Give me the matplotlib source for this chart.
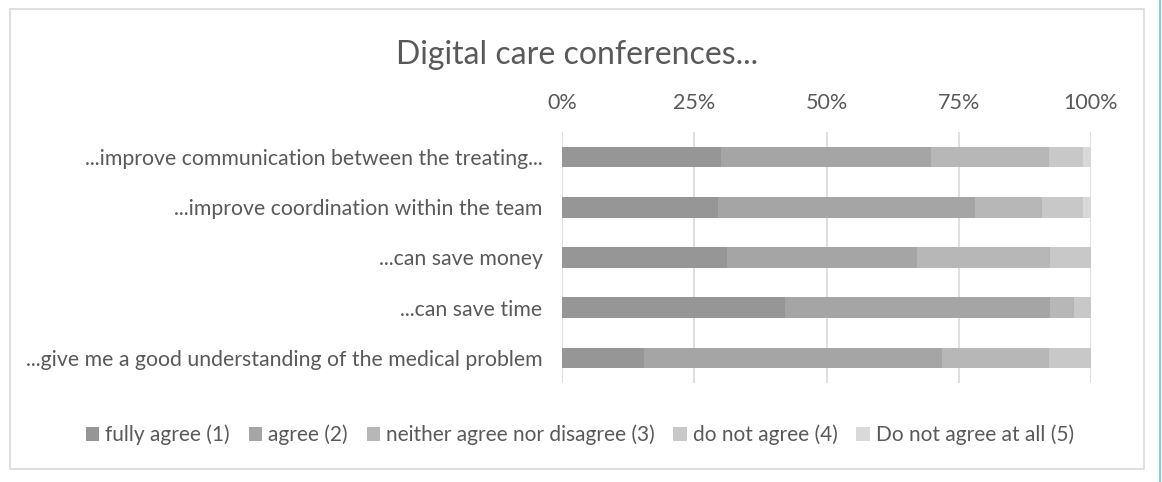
"""Stacked agreement bars for the digital care conference survey."""

import matplotlib.pyplot as plt
import numpy as np
from matplotlib.lines import Line2D
from matplotlib.patches import Patch, Rectangle

plt.rcParams["font.family"] = ["Lato", "DejaVu Sans"]

statements = [
    "...improve communication between the treating...",
    "...improve coordination within the team",
    "...can save money",
    "...can save time",
    "...give me a good understanding of the medical problem",
]
levels = [
    "fully agree (1)",
    "agree (2)",
    "neither agree nor disagree (3)",
    "do not agree (4)",
    "Do not agree at all (5)",
]
# share of answers per statement, in percent
fully_agree = [30.0, 29.5, 31.2, 42.1, 15.5]
agree = [39.8, 48.5, 35.9, 50.1, 56.3]
neutral = [22.2, 12.7, 25.1, 4.6, 20.2]
disagree = [6.4, 7.7, 7.8, 3.2, 8.0]
strongly_disagree = [1.6, 1.6, 0.0, 0.0, 0.0]
tick_labels = ["0%", "25%", "50%", "75%", "100%"]

colors = ["#969696", "#a5a5a5", "#b7b7b7", "#c8c8c8", "#d9d9d9"]
text_color = "#595959"

W, H = 1162, 482
fig = plt.figure(figsize=(W / 100, H / 100), dpi=100)
ax = fig.add_axes([562 / W, 1 - 383 / H, (1091 - 562) / W, (383 - 132) / H])

series = [fully_agree, agree, neutral, disagree, strongly_disagree]
ypos = np.arange(len(statements))
left = np.zeros(len(statements))
for vals, color, name in zip(series, colors, levels):
    vals = np.asarray(vals)
    ax.barh(ypos, vals, left=left, height=0.41, color=color, label=name, zorder=3)
    left += vals

ax.set_xlim(0, 100)
ax.set_ylim(len(statements) - 0.5, -0.5)
ax.set_xticks([0, 25, 50, 75, 100])
ax.set_xticklabels(tick_labels)
ax.xaxis.tick_top()
ax.set_yticks(ypos)
ax.set_yticklabels(statements)
ax.tick_params(axis="x", length=0, pad=14, labelsize=15.5, labelcolor=text_color)
ax.tick_params(axis="y", length=0, pad=14, labelsize=15.3, labelcolor=text_color)
ax.grid(axis="x", color="#d9d9d9", linewidth=1.2, zorder=0)
for spine in ax.spines.values():
    spine.set_visible(False)

fig.text(577 / W, 1 - 55 / H, "Digital care conferences...", ha="center", va="center",
         fontsize=23, color=text_color)

handles = [Patch(facecolor=c, edgecolor="none") for c in colors]
fig.legend(handles, levels, loc="center", bbox_to_anchor=(580 / W, 1 - 435 / H), ncol=5,
           frameon=False, fontsize=15, labelcolor=text_color, handlelength=0.63,
           handleheight=0.63, handletextpad=0.3, columnspacing=0.9)

# chart frame and the accent line at the right edge
fig.add_artist(Rectangle((10 / W, 1 - 469 / H), (1144 - 10) / W, (469 - 9) / H,
                         transform=fig.transFigure, fill=False, edgecolor="#d9d9d9", linewidth=1.2))
fig.add_artist(Line2D([1160 / W, 1160 / W], [0, 1], transform=fig.transFigure,
                      color="#7fd0dc", linewidth=1.5))

fig.savefig("out.png", dpi=100)
